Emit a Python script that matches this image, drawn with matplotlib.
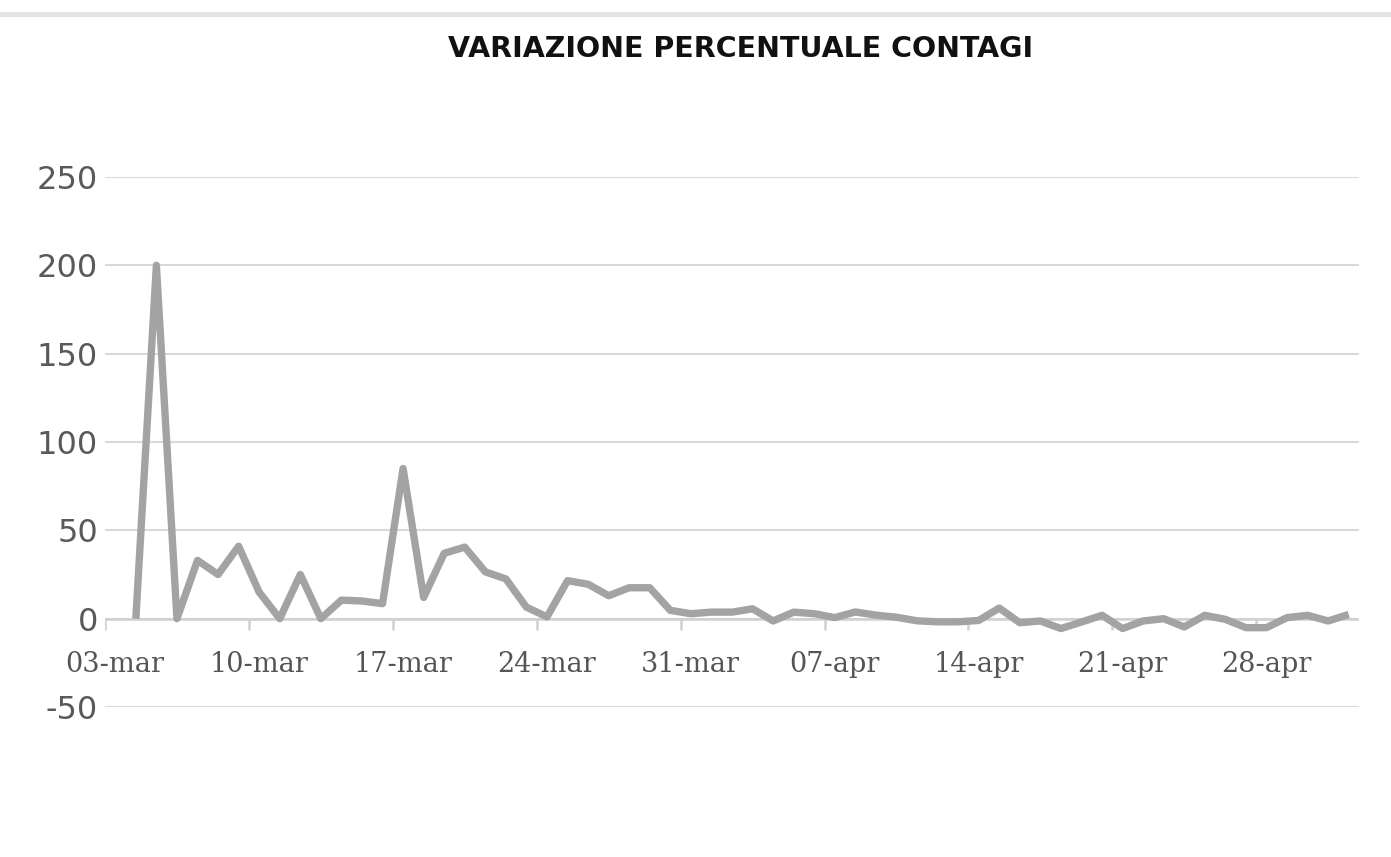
import matplotlib
matplotlib.use("Agg")
import matplotlib.pyplot as plt
from matplotlib.lines import Line2D
from matplotlib.transforms import ScaledTranslation
import pandas as pd

plt.rcParams["axes.unicode_minus"] = False

# ---- data -------------------------------------------------------------
title = "VARIAZIONE PERCENTUALE CONTAGI"
start_date = "2020-03-04"
values = [
    0, 200, 0, 33, 25, 41, 15, 0, 25, 0,            # 04-13 mar
    10.5, 10, 8.5, 85, 12, 37, 40.5, 26.5, 22.5, 6.5,  # 14-23 mar
    1, 21.5, 19.5, 13, 17.5, 17.5, 4.7, 2.8,         # 24-31 mar
    3.7, 3.7, 5.6, -1.3, 3.7, 2.8, 0.6, 3.8, 2, 0.8,  # 01-10 apr
    -1.2, -1.8, -1.8, -1, 6, -2.3, -1.3, -5.6, -1.9, 1.9,  # 11-20 apr
    -5.6, -1.3, 0, -4.7, 1.9, -0.4, -5.1, -5.1, 0.6, 1.9,  # 21-30 apr
    -1.3, 2.4,                                       # 01-02 may
]
dates = pd.date_range(start_date, periods=len(values), freq="D")
tick_dates = pd.to_datetime(["2020-03-03", "2020-03-10", "2020-03-17", "2020-03-24",
                             "2020-03-31", "2020-04-07", "2020-04-14", "2020-04-21",
                             "2020-04-28"])
tick_labels = ["03-mar", "10-mar", "17-mar", "24-mar", "31-mar",
               "07-apr", "14-apr", "21-apr", "28-apr"]
y_ticks = [-50, 0, 50, 100, 150, 200, 250]
x_min, x_max = pd.Timestamp("2020-03-03"), pd.Timestamp("2020-05-03")

# ---- figure -----------------------------------------------------------
W, H = 1391, 857
fig = plt.figure(figsize=(W / 100, H / 100), dpi=100)
fig.patch.set_facecolor("white")

# top grey band
fig.add_artist(Line2D([0, 1], [1 - 13.5 / H] * 2, transform=fig.transFigure,
                      lw=3.8, color="#e4e4e4"))

fig.text(741 / W, 1 - 49 / H, title, ha="center", va="center",
         fontsize=20.5, fontweight="bold", color="#111111", family="DejaVu Sans")

ax = fig.add_axes([105 / W, 1 - 707 / H, (1359 - 105) / W, (707 - 177) / H])
ax.set_facecolor("white")

# plot points centred in their day (Excel date axis)
xpos = dates + pd.Timedelta(hours=12)
ax.plot(xpos, values, color="#a3a3a3", lw=5.3, solid_joinstyle="round",
        solid_capstyle="butt", zorder=3)

ax.set_ylim(-50, 250)
ax.set_xlim(x_min, x_max)
ax.set_yticks(y_ticks)
ax.grid(axis="y", color="#d9d9d9", lw=1.5, zorder=0)
ax.set_axisbelow(True)

for s in ["top", "right", "left", "bottom"]:
    ax.spines[s].set_visible(False)

# x-axis line at zero with downward tick marks
ax.axhline(0, color="#d0d0d0", lw=1.8, zorder=1)
for td in tick_dates:
    ax.plot([td, td], [0, -6.5], color="#d0d0d0", lw=1.8, zorder=1,
            solid_capstyle="butt")

# y tick labels
ax.tick_params(axis="y", length=0, pad=5, labelsize=23, labelcolor="#595959")
for lab in ax.get_yticklabels():
    lab.set_family("DejaVu Sans")

# x tick labels (placed below the zero line)
ax.set_xticks([])
for td, lab in zip(tick_dates, tick_labels):
    t = ax.text(td, -25.7, lab, ha="center", va="center", fontsize=19.5,
                color="#555555", family="DejaVu Serif", zorder=2)
    t.set_transform(ax.transData + ScaledTranslation(10 / 100, 0, fig.dpi_scale_trans))

fig.savefig("out.png", dpi=100, facecolor="white")
